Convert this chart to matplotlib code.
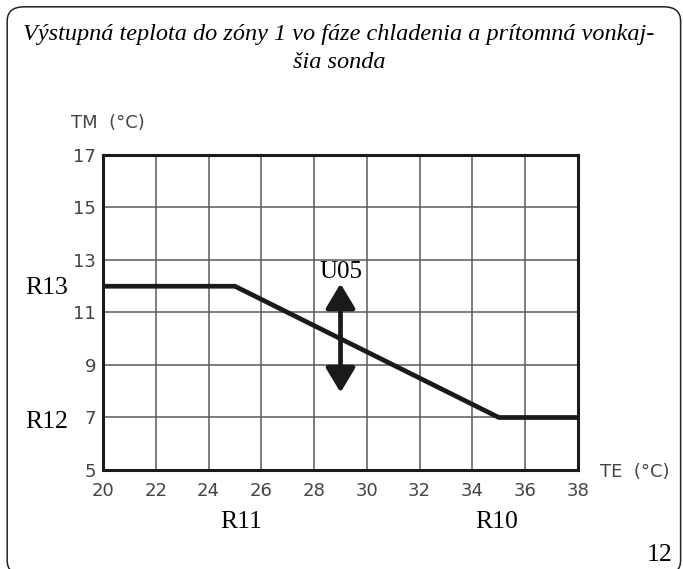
import matplotlib.pyplot as plt
from matplotlib.patches import FancyBboxPatch

# curve: outdoor temperature TE -> flow temperature TM
te = [20, 25, 35, 38]
tm = [12, 12, 7, 7]

x_ticks = [20, 22, 24, 26, 28, 30, 32, 34, 36, 38]
y_ticks = [5, 7, 9, 11, 13, 15, 17]

u05_x = 29
u05_low, u05_high = 7.95, 12.1

title = "Výstupná teplota do zóny 1 vo fáze chladenia a prítomná vonkaj-\nšia sonda"

fig = plt.figure(figsize=(6.83, 5.69), dpi=100)

# rounded page frame (bottom and right run off the page)
frame = FancyBboxPatch((0.0105, -0.01), 0.986, 0.998, boxstyle="round,pad=0,rounding_size=0.025",
                       transform=fig.transFigure, fill=False, edgecolor="#222222", linewidth=1.1)
fig.patches.append(frame)

fig.text(0.496, 0.915, title, ha="center", va="center", fontsize=17.5, style="italic",
         family="Liberation Serif", linespacing=1.4)

ax = fig.add_axes([0.1508, 0.174, 0.6955, 0.5536])
ax.plot(te, tm, color="#1a1a1a", linewidth=3.4, solid_capstyle="butt", zorder=3)

ax.set_xlim(20, 38)
ax.set_ylim(5, 17)
ax.set_xticks(x_ticks)
ax.set_yticks(y_ticks)
ax.tick_params(length=0, labelsize=13, labelcolor="#444444")
ax.tick_params(axis="x", pad=9)
ax.tick_params(axis="y", pad=5)

ax.grid(True, color="#5a5a5a", linewidth=1.1)
ax.set_axisbelow(True)
for s in ax.spines.values():
    s.set_linewidth(2.2)
    s.set_color("#1a1a1a")

# U05 double arrow
ax.annotate("", xy=(u05_x, u05_high), xytext=(u05_x, u05_low),
            arrowprops=dict(arrowstyle="<|-|>,head_length=0.75,head_width=0.45",
                            color="#1a1a1a", lw=3.4, mutation_scale=20,
                            shrinkA=0, shrinkB=0), zorder=4)
ax.text(u05_x, 12.55, "U05", ha="center", va="center", fontsize=18, family="Liberation Serif")

# axis titles
fig.text(0.158, 0.784, "TM  (°C)", ha="center", va="center", fontsize=13, color="#444444")
fig.text(0.93, 0.17, "TE  (°C)", ha="center", va="center", fontsize=13, color="#444444")

# parameter labels
fig.text(0.069, 0.494, "R13", ha="center", va="center", fontsize=18.5, family="Liberation Serif")
fig.text(0.069, 0.258, "R12", ha="center", va="center", fontsize=18.5, family="Liberation Serif")
fig.text(0.353, 0.083, "R11", ha="center", va="center", fontsize=18.5, family="Liberation Serif")
fig.text(0.727, 0.083, "R10", ha="center", va="center", fontsize=18.5, family="Liberation Serif")
fig.text(0.966, 0.025, "12", ha="center", va="center", fontsize=18.5, family="Liberation Serif")

fig.savefig("out.png", dpi=100)
